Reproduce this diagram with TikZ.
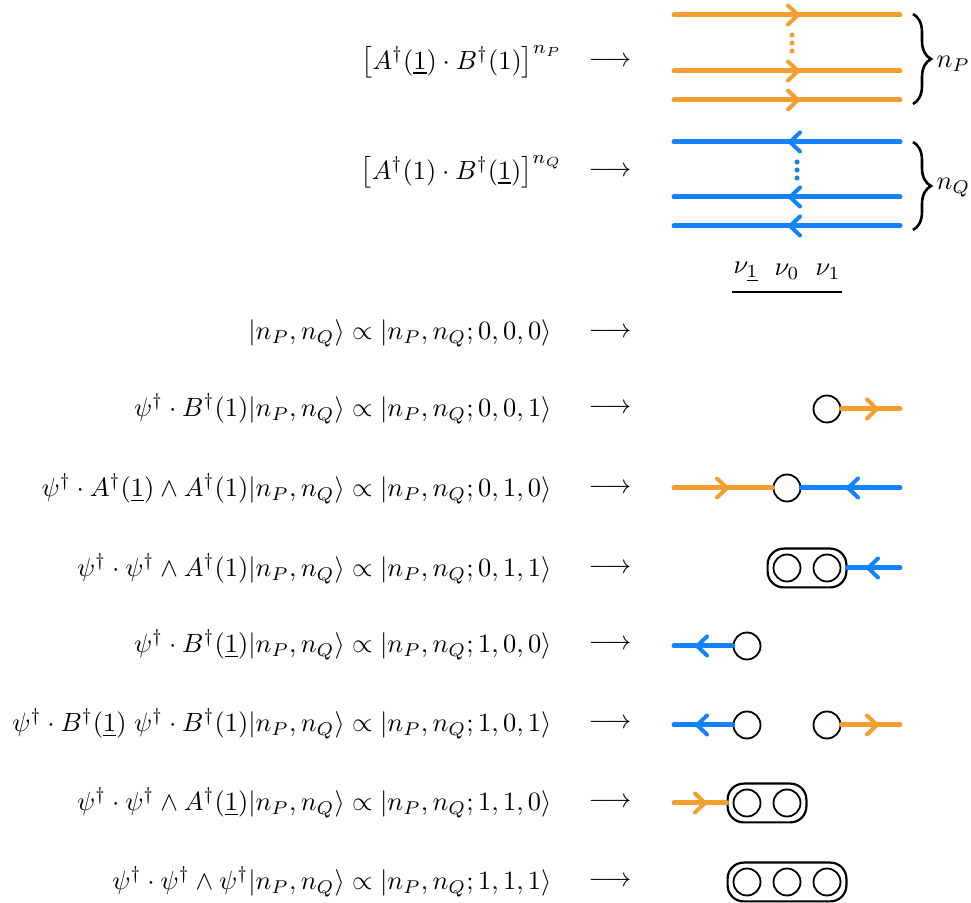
\documentclass[tikz,border=0pt]{standalone}
\usepackage{amsmath}
\usetikzlibrary{fit,decorations.pathreplacing}
\definecolor{porange}{RGB}{243,158,48}
\definecolor{qblue}{RGB}{20,130,250}
\tikzset{
  chevr/.pic={\draw[line width=2pt,line cap=round,line join=round,pic actions] (-10,-9.5) -- (0,0) -- (-10,9.5);},
  chevl/.pic={\draw[line width=2pt,line cap=round,line join=round,pic actions] (10,-9.5) -- (0,0) -- (10,9.5);}
}
\begin{document}
\begin{tikzpicture}[x=0.5pt,y=-0.5pt,
  txt/.style={inner sep=0pt, scale=1.32},
  lbl/.style={txt, anchor=east},
  fline/.style={line width=2.5pt, line cap=round},
  vtx/.style={circle, draw, line width=0.9pt, minimum size=13.5pt, inner sep=0pt, fill=white},
  grp/.style={draw, line width=1.1pt, rounded corners=8pt, inner sep=2.5pt},
  brc/.style={decorate, decoration={brace, amplitude=9pt}, line width=1.3pt},
  dot/.style={circle, fill, inner sep=0pt, minimum size=2.5pt}]
\useasboundingbox (0,0) rectangle (971,903);

% ---- top: P lines ----
\foreach \i/\y in {1/15,2/71,3/100}{
  \coordinate (pa\i) at (674,\y); \coordinate (pb\i) at (900,\y);
  \draw[fline,porange] (pa\i) -- (pb\i);
  \pic[draw=porange] at (798,\y) {chevr};
}
\foreach \i/\y in {1/35,2/43,3/51}{\node[dot,porange] (pd\i) at (792,\y) {};}
% ---- Q lines ----
\foreach \i/\y in {1/142,2/197,3/226}{
  \coordinate (qa\i) at (674,\y); \coordinate (qb\i) at (900,\y);
  \draw[fline,qblue] (qa\i) -- (qb\i);
  \pic[draw=qblue] at (790,\y) {chevl};
}
\foreach \i/\y in {1/162,2/170,3/178}{\node[dot,qblue] (qd\i) at (797,\y) {};}

% braces
\coordinate (bp1) at (913,14); \coordinate (bp2) at (913,104);
\draw[brc] (bp1) -- (bp2);
\node[txt, anchor=west] (nP) at (936,64) {$n_P$};
\coordinate (bq1) at (913,142); \coordinate (bq2) at (913,230);
\draw[brc] (bq1) -- (bq2);
\node[txt, anchor=west] (nQ) at (936,188) {$n_Q$};

% nu labels
\node[txt] (nu1u) at (746,272) {$\nu_{\underline{1}}$};
\node[txt] (nu0) at (787,272) {$\nu_0$};
\node[txt] (nu1) at (828,272) {$\nu_1$};
\coordinate (ul) at (732,292); \coordinate (ur) at (842,292);
\draw[line width=1pt] (ul) -- (ur);

% ---- left labels ----
\node[lbl] (t1) at (563,62) {$\left[A^\dagger(\underline{1})\cdot B^\dagger(1)\right]^{n_P}$};
\node[lbl] (t2) at (563,172) {$\left[A^\dagger(1)\cdot B^\dagger(\underline{1})\right]^{n_Q}$};
\node[lbl] (t3) at (552,333) {$|n_P,n_Q\rangle \propto |n_P,n_Q;0,0,0\rangle$};
\node[lbl] (t4) at (552,409) {$\psi^\dagger\cdot B^\dagger(1)|n_P,n_Q\rangle \propto |n_P,n_Q;0,0,1\rangle$};
\node[lbl] (t5) at (552,489) {$\psi^\dagger\cdot A^\dagger(\underline{1})\wedge A^\dagger(1)|n_P,n_Q\rangle \propto |n_P,n_Q;0,1,0\rangle$};
\node[lbl] (t6) at (552,569) {$\psi^\dagger\cdot \psi^\dagger\wedge A^\dagger(1)|n_P,n_Q\rangle \propto |n_P,n_Q;0,1,1\rangle$};
\node[lbl] (t7) at (552,645) {$\psi^\dagger\cdot B^\dagger(\underline{1})|n_P,n_Q\rangle \propto |n_P,n_Q;1,0,0\rangle$};
\node[lbl] (t8) at (552,724) {$\psi^\dagger\cdot B^\dagger(\underline{1})\;\psi^\dagger\cdot B^\dagger(1)|n_P,n_Q\rangle \propto |n_P,n_Q;1,0,1\rangle$};
\node[lbl] (t9) at (552,803) {$\psi^\dagger\cdot \psi^\dagger\wedge A^\dagger(\underline{1})|n_P,n_Q\rangle \propto |n_P,n_Q;1,1,0\rangle$};
\node[lbl] (t10) at (552,882) {$\psi^\dagger\cdot \psi^\dagger\wedge \psi^\dagger|n_P,n_Q\rangle \propto |n_P,n_Q;1,1,1\rangle$};
\foreach \i/\y in {1/62,2/172,3/333,4/409,5/489,6/569,7/645,8/724,9/803,10/882}{
  \node[txt] (a\i) at (610,\y) {$\longrightarrow$};
}

% ---- row 001 ----
\node[vtx] (r4c) at (827,409) {};
\coordinate (r4e) at (900,409);
\draw[fline,porange] (r4c) -- (r4e);
\pic[draw=porange] at (877,409) {chevr};
% ---- row 010 ----
\coordinate (r5s) at (674,488); \coordinate (r5e) at (900,488);
\node[vtx] (r5c) at (787,488) {};
\draw[fline,porange] (r5s) -- (r5c);
\draw[fline,qblue] (r5c) -- (r5e);
\pic[draw=porange] at (727,488) {chevr};
\pic[draw=qblue] at (848,488) {chevl};
% ---- row 011 ----
\node[vtx] (r6a) at (787,568) {};
\node[vtx] (r6b) at (827,568) {};
\node[grp, fit=(r6a)(r6b)] (r6g) {};
\coordinate (r6e) at (900,568);
\draw[fline,qblue] (r6g) -- (r6e);
\pic[draw=qblue] at (868,568) {chevl};
% ---- row 100 ----
\coordinate (r7s) at (674,646);
\node[vtx] (r7c) at (747,646) {};
\draw[fline,qblue] (r7s) -- (r7c);
\pic[draw=qblue] at (697,646) {chevl};
% ---- row 101 ----
\coordinate (r8s) at (674,725); \coordinate (r8e) at (900,725);
\node[vtx] (r8a) at (747,725) {};
\node[vtx] (r8b) at (827,725) {};
\draw[fline,qblue] (r8s) -- (r8a);
\draw[fline,porange] (r8b) -- (r8e);
\pic[draw=qblue] at (697,725) {chevl};
\pic[draw=porange] at (877,725) {chevr};
% ---- row 110 ----
\coordinate (r9s) at (674,803);
\node[vtx] (r9a) at (747,803) {};
\node[vtx] (r9b) at (787,803) {};
\node[grp, fit=(r9a)(r9b)] (r9g) {};
\draw[fline,porange] (r9s) -- (r9g);
\pic[draw=porange] at (705,803) {chevr};
% ---- row 111 ----
\node[vtx] (r10a) at (747,882) {};
\node[vtx] (r10b) at (787,882) {};
\node[vtx] (r10c) at (827,882) {};
\node[grp, fit=(r10a)(r10b)(r10c)] (r10g) {};
\end{tikzpicture}
\end{document}
